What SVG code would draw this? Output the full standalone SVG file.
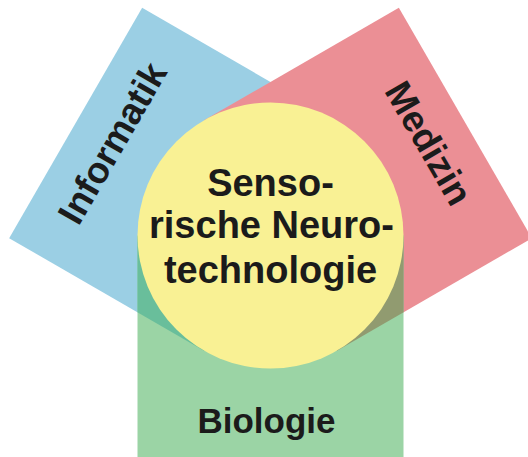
<svg xmlns="http://www.w3.org/2000/svg" width="528" height="457" viewBox="0 0 528 457">
  <style>
    .lbl { font-family: "Liberation Sans", Arial, sans-serif; font-weight: bold; fill: #1b1b1b; text-anchor: middle; }
  </style>
  <defs>
    <rect id="arm" x="137.5" y="235.5" width="266" height="225"/>
    <clipPath id="clipBlue"><use href="#arm" transform="rotate(120 270.5 235.5)"/></clipPath>
    <clipPath id="clipRed"><use href="#arm" transform="rotate(-120 270.5 235.5)"/></clipPath>
  </defs>
  <rect width="528" height="457" fill="#ffffff"/>
  <g id="informatik">
    <use href="#arm" transform="rotate(120 270.5 235.5)" fill="#9BCFE4"/>
    <text class="lbl" font-size="37" transform="translate(112 143) rotate(-60)" y="13">Informatik</text>
  </g>
  <g id="medizin">
    <use href="#arm" transform="rotate(-120 270.5 235.5)" fill="#EB8F95"/>
    <use href="#arm" transform="rotate(-120 270.5 235.5)" fill="#B77887" clip-path="url(#clipBlue)"/>
    <text class="lbl" font-size="37" transform="translate(429 143) rotate(60)" y="13">Medizin</text>
  </g>
  <g id="biologie">
    <use href="#arm" fill="#9BD4A5"/>
    <use href="#arm" fill="#69BE9B" clip-path="url(#clipBlue)"/>
    <use href="#arm" fill="#919B70" clip-path="url(#clipRed)"/>
    <text class="lbl" font-size="35" x="266.5" y="433">Biologie</text>
  </g>
  <g id="center">
    <circle cx="270.5" cy="235.5" r="133" fill="#F9F194"/>
    <text class="lbl" font-size="38" x="270.5" y="196">Senso-</text>
    <text class="lbl" font-size="38" x="271.5" y="238">rische Neuro-</text>
    <text class="lbl" font-size="38" x="270.5" y="283">technologie</text>
  </g>
</svg>
